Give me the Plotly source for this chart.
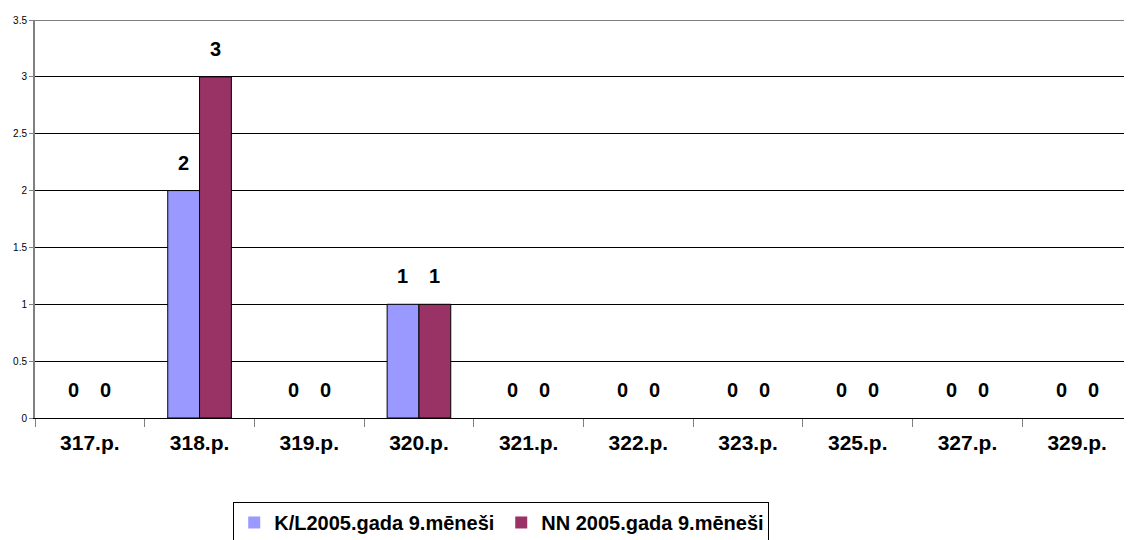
import plotly.graph_objects as go

categories = ["317.p.", "318.p.", "319.p.", "320.p.", "321.p.", "322.p.", "323.p.", "325.p.", "327.p.", "329.p."]
kl_2005 = [0, 2, 0, 1, 0, 0, 0, 0, 0, 0]
nn_2005 = [0, 3, 0, 1, 0, 0, 0, 0, 0, 0]
series_names = ["K/L2005.gada 9.mēneši", "NN 2005.gada 9.mēneši"]
series_colors = ["#9999FF", "#993366"]
y_ticks = [0, 0.5, 1, 1.5, 2, 2.5, 3, 3.5]

FONT = "Liberation Sans, Arial, sans-serif"

fig = go.Figure()
for name, vals, col in zip(series_names, [kl_2005, nn_2005], series_colors):
    fig.add_trace(go.Bar(
        x=categories, y=vals, name=name,
        marker=dict(color=col, line=dict(color="black", width=[1 if v else 0 for v in vals])),
    ))

# data labels above bars (Excel-style)
for vals, shift in [(kl_2005, -16), (nn_2005, 16)]:
    for c, v in zip(categories, vals):
        fig.add_annotation(
            x=c, y=v, xref="x", yref="y", text=f"<b>{v}</b>",
            showarrow=False, xshift=shift, yshift=28, yanchor="middle",
            font=dict(family=FONT, size=20, color="black"),
        )

# top gridline at the axis maximum
fig.add_shape(type="line", xref="paper", x0=0, x1=1, yref="y", y0=max(y_ticks), y1=max(y_ticks),
              line=dict(color="black", width=1), layer="below")

# the page body has an 8px default margin, so the figure is sized to fit the window
fig.update_layout(
    width=1124, height=532,
    margin=dict(l=27, r=0, t=12, b=122, autoexpand=False),
    paper_bgcolor="white", plot_bgcolor="white",
    barmode="group", bargap=0.42, bargroupgap=0,
    font=dict(family=FONT, color="black"),
    showlegend=True,
    legend=dict(
        orientation="h", x=0.425, xanchor="center", y=-0.211, yanchor="top",
        bordercolor="black", borderwidth=1, bgcolor="white",
        font=dict(family=FONT, size=20, color="black", weight="bold"),
        itemwidth=30, traceorder="normal", entrywidth=222, entrywidthmode="pixels",
    ),
    xaxis=dict(
        type="category", showgrid=False, showline=True, linecolor="black", linewidth=1,
        ticks="outside", tickson="boundaries", ticklen=8, tickcolor="#808080",
        tickfont=dict(family=FONT, size=21, color="black", weight="bold"),
        ticklabelstandoff=6, automargin=False, fixedrange=True,
    ),
    yaxis=dict(
        range=[0, 3.5], tickvals=y_ticks, ticktext=[f"{t:g}" for t in y_ticks],
        showgrid=True, gridcolor="black", gridwidth=1,
        showline=True, linecolor="#808080", linewidth=2,
        ticks="outside", ticklen=4, tickcolor="#808080",
        tickfont=dict(family=FONT, size=10, color="black"),
        zeroline=False, automargin=False, fixedrange=True,
    ),
)

fig.write_html("out.html")
